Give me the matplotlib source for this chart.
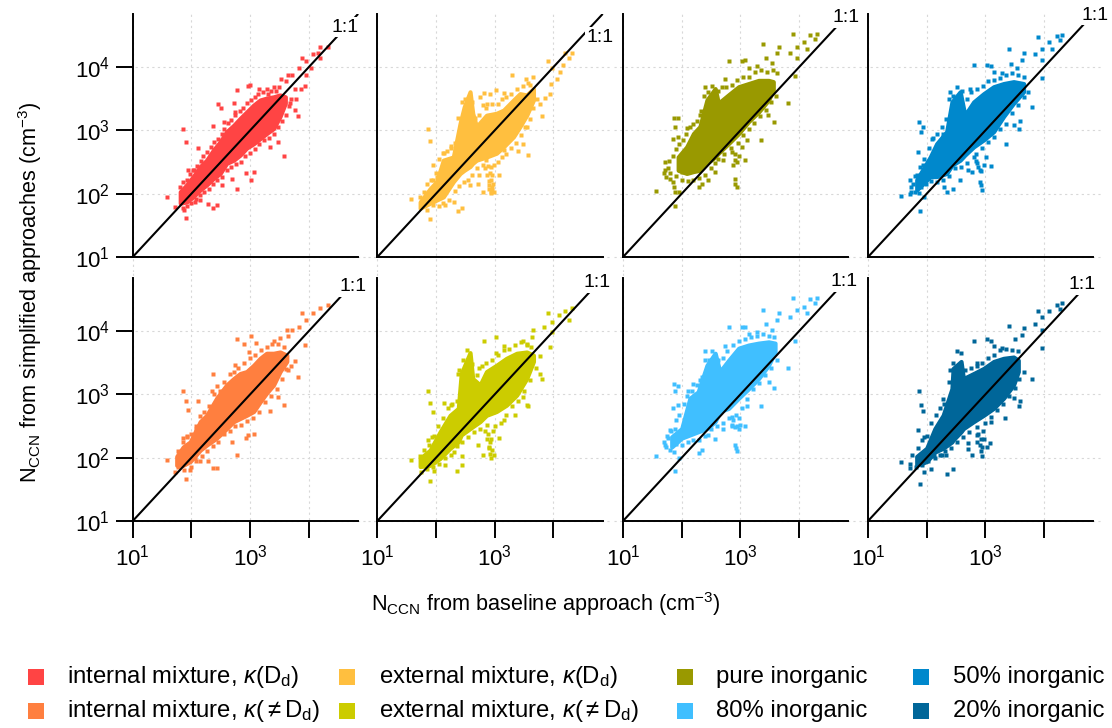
import matplotlib
matplotlib.use("Agg")
import matplotlib.pyplot as plt
from matplotlib.patches import Rectangle
import numpy as np

plt.rcParams['font.family'] = ['Liberation Sans', 'DejaVu Sans']
plt.rcParams['mathtext.fontset'] = 'custom'
plt.rcParams['mathtext.rm'] = 'Liberation Sans'
plt.rcParams['mathtext.it'] = 'Liberation Sans:italic'
plt.rcParams['mathtext.bf'] = 'Liberation Sans:bold'
plt.rcParams['mathtext.fallback'] = 'stixsans'

# All values are log10(N_CCN).
# Dense core of each cloud: baseline x, upper and lower limit of simplified y;
# *_pts are single outlying points, *_edge are points along the grainy rim of the cloud.
p1_x = [1.81,1.92,2.03,2.15,2.26,2.375,2.49,2.60,2.72,2.83,2.94,3.06,3.17,3.28,3.40,3.51,3.60]
p1_hi = [2.03,2.14,2.27,2.43,2.53,2.69,2.82,2.98,3.08,3.19,3.29,3.40,3.48,3.51,3.53,3.56,3.53]
p1_lo = [1.85,1.87,1.95,2.06,2.14,2.24,2.32,2.48,2.53,2.61,2.72,2.79,2.87,2.95,3.03,3.22,3.43]
p1_pts = [(1.58,1.94),(1.86,3.03),(1.90,2.81),(1.90,1.61),(1.88,1.74),(1.72,1.79),(2.12,2.72),(1.95,2.37),(2.02,2.37),(2.375,3.07),(2.46,3.41),(2.50,3.36),(2.73,3.43),(2.78,3.64),(2.96,3.70),(3.0,3.72),(3.15,3.65),(3.28,3.66),(3.41,3.68),(3.52,3.81),(3.65,3.88),(3.71,3.87),(3.61,3.78),(3.84,3.98),(3.89,4.15),(3.95,4.09),(4.08,4.20),(4.16,4.22),(4.19,4.32),(4.32,4.32),(4.19,4.14),(4.04,3.98),(3.95,3.88),(3.94,3.70),(3.78,3.49),(3.76,3.32),(3.81,3.22),(3.57,2.59),(3.47,2.82),(3.34,2.74),(2.78,2.07),(3.01,2.22),(3.07,2.35),(2.93,2.32),(2.44,1.82),(2.36,1.78),(2.29,1.84),(2.15,1.90),(2.06,1.87),(2.69,2.24),(2.52,2.14),(3.77,3.65),(3.875,3.65),(3.68,3.43),(2.74,3.29),(2.56,3.14)]
p1_edge = [(1.80,2.10),(1.85,2.18),(1.93,2.22),(1.98,2.31),(2.04,2.38),(2.09,2.44),(2.16,2.52),(2.20,2.60),(2.27,2.66),(2.33,2.74),(2.38,2.82),(2.45,2.87),(2.52,2.95),(2.56,3.02),(2.63,3.12),(2.68,3.17),(2.75,3.24),(2.82,3.30),(2.88,3.36),(2.95,3.44),(3.02,3.48),(3.08,3.52),(3.14,3.57),(3.22,3.60),(3.30,3.58),(3.36,3.62),(3.44,3.62),(3.50,3.68),(1.85,1.78),(1.93,1.80),(2.00,1.85),(2.08,1.92),(2.14,1.98),(2.22,2.02),(2.30,2.08),(2.36,2.15),(2.44,2.22),(2.52,2.27),(2.60,2.38),(2.68,2.42),(2.76,2.47),(2.85,2.50),(2.92,2.60),(3.00,2.64),(3.08,2.70),(3.16,2.78),(3.24,2.85),(3.32,2.88),(3.40,2.95),(3.48,3.05),(3.55,3.15),(3.62,3.25),(3.66,3.38),(3.70,3.50)]

p2_x = [1.73,1.90,2.01,2.125,2.295,2.41,2.48,2.58,2.625,2.69,2.86,3.03,3.15,3.32,3.43,3.545,3.66]
p2_hi = [1.87,2.08,2.19,2.53,2.58,3.11,3.37,3.61,3.27,3.06,3.24,3.27,3.32,3.48,3.58,3.56,3.66]
p2_lo = [1.77,1.85,1.90,1.95,2.19,2.32,2.37,2.43,2.48,2.53,2.58,2.64,2.74,2.90,3.06,3.24,3.48]
p2_pts = [(1.58,1.91),(1.87,3.03),(1.90,2.83),(1.90,1.60),(1.95,2.45),(2.26,2.76),(2.14,2.64),(2.37,1.72),(2.45,1.77),(2.15,1.82),(2.30,1.87),(1.95,2.22),(2.02,2.27),(2.58,2.14),(2.72,2.16),(2.80,2.02),(2.93,2.01),(2.98,2.03),(2.90,2.14),(2.73,2.29),(3.08,2.29),(2.81,3.59),(2.92,3.57),(3.02,3.64),(3.16,3.59),(3.30,3.87),(3.53,3.81),(3.66,3.84),(3.56,3.75),(3.90,4.10),(3.97,3.98),(4.06,3.81),(4.20,4.22),(4.31,4.22),(4.27,4.15),(4.17,4.03),(4.11,3.93),(3.96,3.73),(3.86,3.51),(3.95,3.58),(3.77,3.42),(3.81,3.23),(3.57,2.61),(3.48,2.78),(3.39,2.68),(3.16,2.69),(3.23,2.85),(3.55,3.06),(2.875,3.42),(2.75,3.52),(2.86,2.53),(2.89,2.43),(2.92,2.32),(2.93,2.22),(2.95,2.11),(2.96,2.06)]
p2_edge = [(1.72,1.95),(1.80,2.03),(1.85,2.15),(1.92,2.22),(2.00,2.32),(2.05,2.55),(2.12,2.65),(2.18,2.68),(2.25,2.72),(2.33,2.80),(2.38,3.20),(2.44,3.45),(2.50,3.50),(2.62,3.45),(2.66,3.20),(2.73,3.25),(2.80,3.40),(2.85,3.35),(2.95,3.42),(3.05,3.42),(3.12,3.50),(3.20,3.52),(3.28,3.58),(3.38,3.65),(3.48,3.70),(3.60,3.72),(1.85,1.75),(1.95,1.82),(2.05,1.80),(2.12,1.85),(2.22,1.90),(2.32,2.05),(2.40,2.12),(2.48,2.18),(2.55,2.22),(2.62,2.30),(2.70,2.40),(2.80,2.46),(2.98,2.45),(3.05,2.50),(3.12,2.58),(3.20,2.62),(3.28,2.72),(3.36,2.80),(3.44,2.92),(3.52,3.05),(3.60,3.18),(3.66,3.35),(3.72,3.50),(2.84,2.40),(2.87,2.30),(2.90,2.20),(2.95,2.30),(2.93,2.42),(2.97,2.15),(2.91,2.08),(2.94,2.03)]

p3_x = [1.94,2.085,2.20,2.31,2.43,2.57,2.625,2.795,2.97,3.14,3.31,3.48,3.56]
p3_hi = [2.58,2.74,2.95,3.06,3.48,3.66,3.43,3.56,3.69,3.74,3.79,3.79,3.77]
p3_lo = [2.37,2.32,2.35,2.37,2.48,2.58,2.64,2.79,2.95,3.14,3.29,3.48,3.64]
p3_pts = [(1.57,2.05),(1.875,3.19),(1.94,3.19),(1.89,3.06),(1.86,2.87),(1.94,2.89),(1.89,1.81),(1.96,2.02),(1.875,2.11),(1.70,2.32),(1.77,2.40),(1.80,2.24),(1.86,2.19),(1.89,2.03),(1.74,2.27),(2.00,2.35),(2.085,3.04),(2.39,3.69),(2.31,3.24),(2.80,4.09),(3.02,4.09),(3.08,4.11),(2.74,3.81),(3.39,4.37),(3.14,3.98),(3.28,4.02),(3.66,4.32),(3.43,4.14),(3.63,4.22),(3.53,4.06),(3.85,4.23),(3.89,4.53),(3.96,4.32),(4.19,4.51),(4.31,4.53),(4.27,4.45),(4.09,4.40),(4.13,4.29),(3.96,4.15),(3.93,3.86),(3.81,3.43),(3.58,3.13),(3.35,2.85),(3.47,3.24),(3.11,2.85),(3.08,2.54),(2.91,2.24),(2.94,2.11),(2.91,2.16),(2.44,2.22),(2.35,2.16),(2.30,2.10),(2.57,2.34),(2.71,2.53),(2.85,2.66),(2.91,2.53),(3.02,2.74)]
p3_edge = [(1.72,2.50),(1.78,2.52),(1.85,2.60),(1.90,2.70),(1.96,2.78),(2.02,2.85),(2.08,2.95),(2.14,3.05),(2.20,3.10),(2.26,3.15),(2.33,3.30),(2.38,3.55),(2.45,3.60),(2.52,3.70),(2.62,3.62),(2.68,3.68),(2.75,3.68),(2.85,3.72),(2.95,3.80),(3.05,3.85),(3.15,3.85),(3.25,3.92),(3.35,3.95),(3.45,3.92),(3.55,3.95),(3.62,3.90),(1.72,2.38),(1.80,2.32),(1.90,2.28),(2.00,2.22),(2.10,2.20),(2.20,2.22),(2.30,2.25),(2.40,2.30),(2.50,2.40),(2.56,2.48),(2.62,2.55),(2.72,2.62),(2.84,2.72),(2.96,2.80),(3.04,2.92),(3.14,3.02),(3.24,3.12),(3.34,3.22),(3.44,3.32),(3.52,3.45),(3.60,3.55),(2.88,2.45),(2.94,2.50),(2.98,2.60),(2.90,2.62)]

p4_x = [1.83,2.06,2.17,2.34,2.43,2.57,2.65,2.80,2.97,3.14,3.31,3.48,3.65]
p4_hi = [2.22,2.58,2.79,2.98,3.45,3.61,3.24,3.45,3.58,3.69,3.74,3.77,3.74]
p4_lo = [2.06,2.27,2.27,2.32,2.45,2.53,2.61,2.74,2.85,2.98,3.22,3.43,3.61]
p4_pts = [(1.57,1.97),(1.875,3.13),(1.94,3.05),(1.91,2.98),(1.86,2.66),(1.94,2.45),(1.89,1.72),(1.96,1.95),(1.875,2.01),(1.73,2.10),(1.77,2.16),(1.83,2.29),(1.74,2.03),(2.03,2.48),(2.085,2.87),(2.39,3.60),(2.28,2.95),(2.80,4.03),(3.02,4.03),(3.09,4.02),(2.74,3.65),(3.41,4.28),(3.14,3.93),(3.28,3.90),(3.66,4.23),(3.43,4.05),(3.63,4.12),(3.53,3.98),(3.85,4.20),(3.90,4.47),(3.96,4.29),(4.09,4.39),(4.22,4.49),(4.31,4.51),(4.27,4.43),(4.13,4.29),(3.96,4.12),(3.96,3.82),(3.80,3.37),(3.58,3.02),(3.35,2.78),(3.49,3.08),(3.59,3.15),(3.09,2.43),(2.91,2.19),(2.94,2.06),(2.92,2.14),(2.44,2.08),(2.35,2.03),(2.30,2.11),(2.57,2.22),(2.71,2.37),(2.78,2.34),(2.91,2.37),(2.86,2.48),(3.01,2.58)]
p4_edge = [(1.72,2.22),(1.80,2.28),(1.88,2.42),(1.96,2.55),(2.04,2.72),(2.10,2.88),(2.18,2.95),(2.26,3.05),(2.33,3.18),(2.38,3.50),(2.45,3.55),(2.52,3.68),(2.60,3.62),(2.68,3.50),(2.76,3.60),(2.86,3.65),(2.96,3.70),(3.05,3.78),(3.15,3.80),(3.25,3.82),(3.35,3.88),(3.45,3.90),(3.55,3.88),(3.65,3.85),(1.72,2.00),(1.80,2.02),(1.90,2.10),(1.98,2.15),(2.08,2.20),(2.18,2.18),(2.28,2.22),(2.38,2.28),(2.48,2.40),(2.58,2.42),(2.68,2.48),(2.80,2.58),(2.95,2.72),(3.05,2.82),(3.15,2.90),(3.25,3.02),(3.35,3.10),(3.45,3.28),(3.55,3.40),(3.65,3.52),(3.72,3.60),(2.84,2.52),(2.88,2.42),(2.93,2.36),(2.97,2.45),(2.84,2.62)]

p5_x = [1.75,1.86,1.98,2.15,2.26,2.43,2.60,2.72,2.83,2.94,3.06,3.17,3.28,3.40,3.51,3.625]
p5_hi = [2.02,2.17,2.25,2.57,2.67,2.94,3.15,3.25,3.33,3.36,3.46,3.57,3.65,3.65,3.67,3.62]
p5_lo = [1.88,1.88,1.94,2.12,2.20,2.31,2.46,2.57,2.62,2.67,2.73,2.88,3.02,3.15,3.36,3.52]
p5_pts = [(1.58,1.97),(1.86,3.06),(1.90,2.90),(1.95,2.75),(2.12,2.90),(1.90,1.66),(1.97,1.80),(1.72,1.77),(1.86,2.31),(1.93,2.34),(2.07,2.46),(2.375,3.33),(2.35,3.05),(2.44,3.14),(2.78,3.88),(2.89,3.79),(3.01,3.93),(3.10,3.81),(2.74,3.47),(2.98,3.67),(3.40,3.84),(3.51,3.89),(3.63,4.02),(3.71,4.02),(3.65,3.93),(3.84,4.06),(3.89,4.28),(3.95,4.17),(4.08,4.28),(4.19,4.36),(4.32,4.41),(3.94,3.78),(3.81,3.27),(3.76,3.52),(3.65,3.38),(3.57,2.84),(3.47,2.96),(3.34,2.74),(2.78,2.05),(3.07,2.37),(2.93,2.31),(2.97,2.36),(2.69,2.25),(2.44,1.84),(2.36,1.83),(2.29,1.94),(2.15,1.94),(2.06,1.99)]
p5_edge = [(1.78,2.10),(1.85,2.25),(1.93,2.32),(2.00,2.38),(2.08,2.50),(2.15,2.66),(2.22,2.72),(2.30,2.82),(2.38,3.00),(2.48,3.05),(2.55,3.20),(2.65,3.32),(2.72,3.35),(2.80,3.42),(2.90,3.50),(3.00,3.58),(3.08,3.62),(3.18,3.70),(3.28,3.75),(3.38,3.80),(3.48,3.80),(3.58,3.75),(1.78,1.85),(1.88,1.80),(2.00,1.86),(2.08,1.95),(2.18,2.02),(2.26,2.10),(2.36,2.18),(2.46,2.25),(2.55,2.38),(2.65,2.42),(2.75,2.50),(2.85,2.52),(2.95,2.58),(3.05,2.62),(3.15,2.72),(3.25,2.88),(3.35,2.98),(3.45,3.08),(3.55,3.25),(3.62,3.40),(3.70,3.45)]

p6_x = [1.73,1.90,2.07,2.24,2.38,2.43,2.58,2.625,2.75,2.86,3.03,3.20,3.375,3.545,3.66]
p6_hi = [1.99,2.12,2.41,2.67,2.78,3.33,3.66,3.25,3.15,3.36,3.46,3.57,3.65,3.67,3.62]
p6_lo = [1.86,1.88,1.99,2.15,2.25,2.36,2.46,2.49,2.57,2.67,2.73,2.83,2.99,3.25,3.52]
p6_pts = [(1.58,1.96),(1.87,3.05),(1.90,2.86),(1.90,1.63),(1.95,2.72),(2.14,2.86),(2.26,2.83),(2.36,1.79),(2.45,1.88),(2.45,2.02),(2.15,1.88),(2.30,2.09),(1.87,2.28),(1.94,2.33),(1.97,1.79),(2.80,2.04),(2.93,2.00),(2.98,2.04),(2.91,2.17),(2.72,2.20),(3.08,2.31),(2.81,3.84),(3.02,3.91),(3.15,3.76),(3.02,3.65),(2.74,3.41),(2.38,3.32),(3.49,3.84),(3.66,4.01),(3.63,3.91),(3.55,3.78),(3.84,4.06),(3.90,4.28),(3.97,4.14),(4.20,4.31),(4.31,4.36),(4.27,4.17),(4.10,4.25),(3.97,3.99),(3.94,3.75),(3.77,3.61),(3.77,3.33),(3.81,3.24),(3.57,2.82),(3.35,2.67),(3.49,2.96),(3.55,2.83),(3.15,2.59),(2.875,2.52),(2.89,2.38),(2.92,2.25),(2.95,2.12)]
p6_edge = [(1.72,2.02),(1.80,2.12),(1.88,2.20),(1.96,2.35),(2.04,2.50),(2.12,2.62),(2.20,2.78),(2.28,2.85),(2.36,2.90),(2.40,3.38),(2.46,3.55),(2.52,3.70),(2.62,3.48),(2.70,3.30),(2.78,3.45),(2.85,3.50),(2.95,3.55),(3.05,3.62),(3.15,3.70),(3.25,3.72),(3.35,3.78),(3.45,3.82),(3.55,3.80),(3.62,3.75),(1.75,1.78),(1.85,1.82),(1.95,1.86),(2.05,1.90),(2.15,2.00),(2.25,2.05),(2.35,2.18),(2.45,2.25),(2.55,2.32),(2.65,2.40),(2.75,2.45),(3.00,2.50),(3.10,2.55),(3.20,2.68),(3.30,2.82),(3.40,2.90),(3.50,3.05),(3.60,3.22),(3.70,3.42),(2.84,2.42),(2.87,2.30),(2.90,2.15),(2.94,2.30),(2.97,2.42),(2.92,2.06)]

p7_x = [1.83,2.00,2.14,2.28,2.43,2.57,2.65,2.80,2.97,3.14,3.31,3.48,3.59]
p7_hi = [2.33,2.46,2.94,3.04,3.46,3.65,3.36,3.54,3.73,3.78,3.81,3.83,3.81]
p7_lo = [2.17,2.31,2.36,2.41,2.46,2.57,2.73,2.78,2.94,3.09,3.25,3.46,3.67]
p7_pts = [(1.57,2.02),(1.875,3.17),(1.94,3.14),(1.89,3.05),(1.86,2.79),(1.94,2.83),(1.89,1.79),(1.96,2.00),(1.875,2.09),(1.70,2.25),(1.77,2.31),(1.80,2.44),(1.89,2.46),(1.74,2.17),(2.085,2.97),(2.39,3.68),(2.31,3.23),(2.20,3.16),(2.80,4.07),(3.02,4.07),(3.08,4.07),(2.74,3.76),(3.39,4.34),(3.14,3.96),(3.28,3.99),(3.66,4.29),(3.43,4.11),(3.63,4.17),(3.53,4.02),(3.85,4.23),(3.89,4.52),(3.96,4.33),(4.19,4.50),(4.31,4.52),(4.27,4.45),(4.09,4.38),(4.13,4.28),(3.93,3.84),(3.81,3.41),(3.58,3.10),(3.35,2.82),(3.49,3.20),(3.11,2.81),(3.08,2.50),(2.91,2.20),(2.94,2.11),(2.92,2.16),(2.44,2.36),(2.35,2.12),(2.30,2.08),(2.57,2.29),(2.71,2.46),(2.85,2.52),(2.97,2.46),(2.85,2.65)]
p7_edge = [(1.75,2.35),(1.82,2.42),(1.90,2.60),(1.96,2.68),(2.04,2.85),(2.10,3.05),(2.18,3.05),(2.26,3.15),(2.34,3.28),(2.40,3.55),(2.46,3.55),(2.52,3.68),(2.62,3.55),(2.70,3.58),(2.78,3.68),(2.88,3.78),(2.98,3.85),(3.08,3.88),(3.18,3.90),(3.28,3.92),(3.38,3.95),(3.48,3.92),(3.58,3.90),(1.72,2.20),(1.80,2.12),(1.90,2.22),(2.00,2.20),(2.10,2.25),(2.20,2.28),(2.30,2.28),(2.40,2.35),(2.50,2.45),(2.60,2.50),(2.70,2.55),(2.80,2.62),(2.92,2.68),(3.02,2.78),(3.12,2.92),(3.22,3.08),(3.32,3.18),(3.42,3.30),(3.52,3.42),(3.62,3.55),(2.85,2.50),(2.90,2.48),(2.95,2.50),(2.88,2.60),(2.98,2.62),(3.00,2.52)]

p8_x = [1.83,2.00,2.14,2.28,2.43,2.45,2.585,2.625,2.80,2.97,3.14,3.31,3.48,3.56]
p8_hi = [2.02,2.15,2.46,2.67,3.09,3.41,3.52,3.25,3.33,3.41,3.52,3.57,3.59,3.54]
p8_lo = [1.88,1.94,2.09,2.15,2.25,2.28,2.41,2.46,2.57,2.67,2.78,2.94,3.15,3.36]
p8_pts = [(1.57,1.93),(1.875,3.06),(1.91,2.84),(1.94,2.74),(1.86,2.44),(1.95,2.33),(1.89,1.59),(1.96,1.77),(2.07,1.82),(2.35,1.74),(2.44,1.82),(2.71,2.13),(2.78,2.04),(2.94,2.02),(3.02,2.17),(3.08,2.24),(2.71,2.23),(2.39,3.38),(2.27,2.92),(2.80,3.85),(3.02,3.88),(3.09,3.85),(3.14,3.76),(2.86,3.49),(3.41,4.08),(3.28,3.73),(3.66,4.05),(3.51,3.87),(3.62,3.94),(3.85,4.11),(3.90,4.31),(3.96,4.22),(4.09,4.31),(4.22,4.42),(4.31,4.44),(4.27,4.35),(3.96,4.02),(3.96,3.73),(3.80,3.24),(3.58,2.82),(3.34,2.62),(3.49,2.94),(3.59,2.89),(3.09,2.57),(2.94,2.17),(2.85,2.36),(2.86,2.25),(2.14,1.99),(2.26,2.04),(2.33,2.04),(1.72,1.83),(1.86,1.94)]
p8_edge = [(1.75,2.05),(1.85,2.15),(1.92,2.28),(2.00,2.35),(2.08,2.55),(2.15,2.68),(2.22,2.78),(2.30,2.85),(2.38,3.20),(2.44,3.50),(2.52,3.68),(2.58,3.65),(2.66,3.38),(2.75,3.42),(2.85,3.45),(2.95,3.50),(3.05,3.58),(3.15,3.62),(3.25,3.70),(3.35,3.72),(3.45,3.70),(3.55,3.68),(1.72,1.90),(1.82,1.85),(1.92,1.88),(2.02,1.95),(2.12,2.02),(2.22,2.05),(2.32,2.10),(2.42,2.15),(2.52,2.25),(2.62,2.32),(2.72,2.40),(3.00,2.55),(3.10,2.65),(3.20,2.75),(3.30,2.85),(3.40,2.98),(3.50,3.10),(3.58,3.25),(3.65,3.35),(2.85,2.48),(2.88,2.38),(2.92,2.30),(2.96,2.42),(2.90,2.20),(2.93,2.10),(2.97,2.30)]

labels = ["internal mixture, $\\kappa$(D$_{\\mathrm{d}}$)", "external mixture, $\\kappa$(D$_{\\mathrm{d}}$)",
          "pure inorganic", "50% inorganic",
          "internal mixture, $\\kappa$($\\neq$D$_{\\mathrm{d}}$)", "external mixture, $\\kappa$($\\neq$D$_{\\mathrm{d}}$)",
          "80% inorganic", "20% inorganic"]
colors = ["#FF4444", "#FFBF3F", "#999900", "#0088CC", "#FF7F3F", "#CCCC00", "#40BFFF", "#006699"]
clouds = [(p1_x,p1_hi,p1_lo,p1_pts+p1_edge),(p2_x,p2_hi,p2_lo,p2_pts+p2_edge),(p3_x,p3_hi,p3_lo,p3_pts+p3_edge),(p4_x,p4_hi,p4_lo,p4_pts+p4_edge),
          (p5_x,p5_hi,p5_lo,p5_pts+p5_edge),(p6_x,p6_hi,p6_lo,p6_pts+p6_edge),(p7_x,p7_hi,p7_lo,p7_pts+p7_edge),(p8_x,p8_hi,p8_lo,p8_pts+p8_edge)]
one_to_one_pos = [(4.62,4.63),(4.79,4.475),(4.80,4.78),(4.87,4.82),(4.76,4.70),(4.74,4.76),(4.765,4.78),(4.645,4.73)]
axis_max = 4.84

W, H = 1112, 728
fig = plt.figure(figsize=(W/100, H/100), dpi=100)
DX, DY = 58.7, 63.3
lefts = [132.7, 377.3, 623.0, 868.0]
bottoms = [257.0, 521.0]
row_top = [14.0, 272.0]
row_bot = [272.0, 531.0]
FS = 15.6
LW = 1.4

for i, (cx, chi, clo, pts) in enumerate(clouds):
    r, c = divmod(i, 4)
    x0, y0 = lefts[c], bottoms[r]
    px_l, px_r = x0 - 9, x0 + (axis_max - 1) * DX + 9
    ax = fig.add_axes([px_l / W, 1 - row_bot[r] / H, (px_r - px_l) / W, (row_bot[r] - row_top[r]) / H])
    ax.set_xscale('log'); ax.set_yscale('log')
    ax.set_xlim(10 ** (1 + (px_l - x0) / DX), 10 ** (1 + (px_r - x0) / DX))
    ax.set_ylim(10 ** (1 + (y0 - row_bot[r]) / DY), 10 ** (1 + (y0 - row_top[r]) / DY))
    ax.patch.set_alpha(0)
    ax.set_zorder(10 - i)
    ax.grid(True, which='major', color='#d8d8d8', lw=0.8, ls=(0, (2, 3)), zorder=0)
    ax.set_axisbelow(True)
    ax.minorticks_off()

    col = colors[i]
    ax.fill_between(10.0 ** np.array(cx), 10.0 ** np.array(clo), 10.0 ** np.array(chi),
                    color=col, lw=3.0, zorder=2)
    ax.plot([10 ** p[0] for p in pts], [10 ** p[1] for p in pts], ls='', marker='s', ms=2.3,
            mfc=col, mec='none', zorder=3)
    ax.plot([10, 10 ** axis_max], [10, 10 ** axis_max], color='k', lw=1.5, zorder=4, solid_capstyle='butt')
    lx, ly = one_to_one_pos[i]
    ax.text(10 ** lx, 10 ** ly, "1:1", fontsize=14, ha='center', va='center', zorder=5, clip_on=False,
            bbox=dict(fc='white', ec='none', pad=1.0))

    for s in ('top', 'right'):
        ax.spines[s].set_visible(False)
    ax.spines['left'].set_position(('data', 10))
    ax.spines['bottom'].set_position(('data', 10))
    ax.spines['left'].set_bounds(10, 10 ** axis_max)
    ax.spines['bottom'].set_bounds(10, 10 ** axis_max)
    ax.spines['left'].set_linewidth(LW)
    ax.spines['bottom'].set_linewidth(LW)

    ax.set_xticks([10, 100, 1000, 10000])
    ax.set_yticks([10, 100, 1000, 10000])
    if r == 1:
        ax.set_xticklabels(['$10^{1}$', '', '$10^{3}$', ''])
        ax.tick_params(axis='x', length=12.2, width=LW, labelsize=16, pad=5)
    else:
        ax.tick_params(axis='x', length=0, labelbottom=False)
    if c == 0:
        ax.set_yticklabels(['$10^{1}$', '$10^{2}$', '$10^{3}$', '$10^{4}$'])
        ax.tick_params(axis='y', length=12.2, width=LW, labelsize=16, pad=4)
    else:
        ax.tick_params(axis='y', length=0, labelleft=False)

over = fig.add_axes([0, 0, 1, 1], zorder=20)
over.set_xlim(0, W); over.set_ylim(H, 0); over.axis('off'); over.patch.set_alpha(0)
over.text(30, 292, "N$_{\\mathrm{CCN}}$ from simplified approaches (cm$^{-3}$)", rotation=90,
          ha='center', va='center', fontsize=FS)
over.text(546, 604, "N$_{\\mathrm{CCN}}$ from baseline approach (cm$^{-3}$)", ha='center', va='center', fontsize=FS)

sq_x = [28, 339, 677, 913]
tx_x = [67, 379, 716.5, 953]
rows_y = [677, 711]
for i, (lab, col) in enumerate(zip(labels, colors)):
    r, c = divmod(i, 4)
    over.add_patch(Rectangle((sq_x[c], rows_y[r] - 8), 16, 16, fc=col, ec='none'))
    over.text(tx_x[c], rows_y[r], lab, ha='left', va='center', fontsize=17.2)

fig.savefig("out.png", dpi=100, facecolor='white')
